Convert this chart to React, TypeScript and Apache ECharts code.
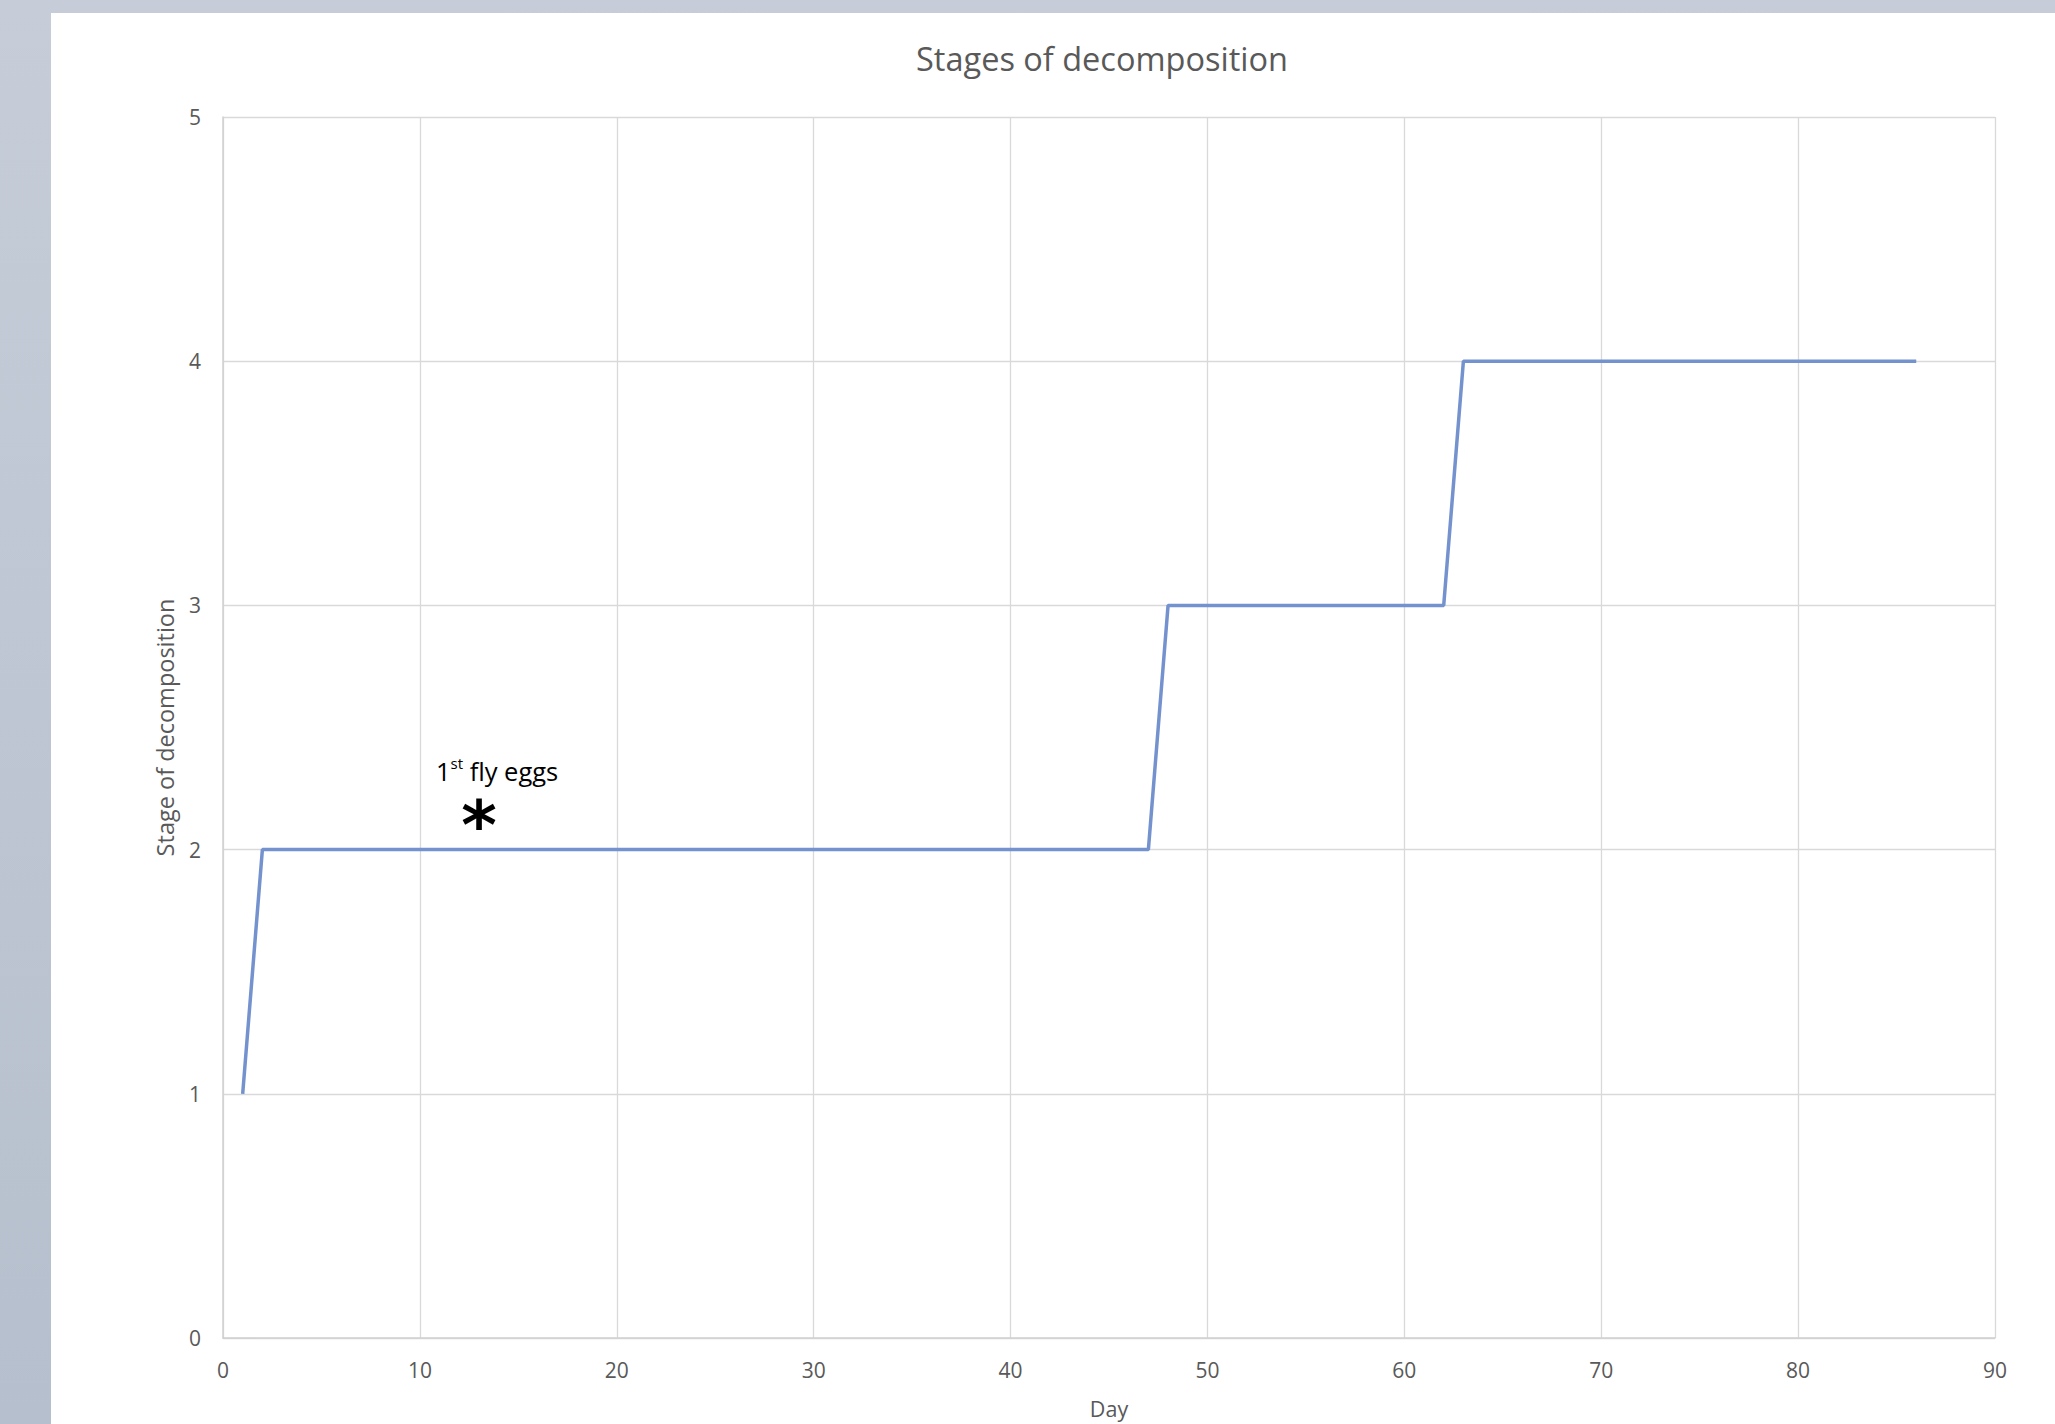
import React, { useEffect, useRef } from "react";
import * as echarts from "echarts";

const days = [1, 2, 47, 48, 62, 63, 86];
const stages = [1, 2, 2, 3, 3, 4, 4];
const xTicks = { min: 0, max: 90, interval: 10 };
const yTicks = { min: 0, max: 5, interval: 1 };
const titleText = "Stages of decomposition";
const xName = "Day";
const yName = "Stage of decomposition";
const annotationDay = 13;
const annotationStage = 2;

const FONT = "'Open Sans', Lato, sans-serif";

export default function App() {
  const ref = useRef<HTMLDivElement>(null);
  useEffect(() => {
    if (!ref.current) return;
    const chart = echarts.init(ref.current, undefined, { renderer: "svg" });
    const data = days.map((d, i) => [d, stages[i]]);
    chart.setOption({
      animation: false,
      backgroundColor: "transparent",
      textStyle: { fontFamily: FONT },
      title: {
        text: titleText,
        left: 1097,
        textAlign: "center",
        top: 37,
        textStyle: { fontFamily: FONT, fontSize: 32.5, fontWeight: "normal", color: "#595959" },
      },
      grid: { left: 223, top: 117, right: 60, bottom: 86, containLabel: false },
      xAxis: {
        type: "value",
        min: xTicks.min,
        max: xTicks.max,
        interval: xTicks.interval,
        name: xName,
        nameLocation: "middle",
        nameGap: 59,
        nameTextStyle: { fontFamily: FONT, fontSize: 21.5, color: "#595959" },
        axisLine: { show: true, lineStyle: { color: "#d0d0d0", width: 1.5 } },
        axisTick: { show: false },
        axisLabel: { fontFamily: FONT, fontSize: 21, color: "#595959", margin: 21 },
        splitLine: { show: true, lineStyle: { color: "#d9d9d9", width: 1.3 } },
      },
      yAxis: {
        type: "value",
        min: yTicks.min,
        max: yTicks.max,
        interval: yTicks.interval,
        name: yName,
        nameLocation: "middle",
        nameGap: 46,
        nameTextStyle: { fontFamily: FONT, fontSize: 23.5, color: "#595959" },
        axisLine: { show: true, lineStyle: { color: "#d0d0d0", width: 1.5 } },
        axisTick: { show: false },
        axisLabel: { fontFamily: FONT, fontSize: 21, color: "#595959", margin: 22 },
        splitLine: { show: true, lineStyle: { color: "#d9d9d9", width: 1.3 } },
      },
      series: [
        {
          type: "line",
          data,
          showSymbol: false,
          symbol: "none",
          lineStyle: { color: "#7492ce", width: 3.5 },
          itemStyle: { color: "#7492ce" },
        },
      ],
    });
    const [px, py] = chart.convertToPixel({ gridIndex: 0 }, [annotationDay, annotationStage]) as number[];
    chart.setOption({
      graphic: [
        {
          type: "text",
          x: px - 43,
          y: py - 80,
          style: {
            text: "{n|1}{s|st}{n| fly eggs}",
            rich: {
              n: { fontFamily: FONT, fontSize: 25.5, fill: "#000", verticalAlign: "bottom", lineHeight: 28 },
              s: { fontFamily: FONT, fontSize: 15, fill: "#000", verticalAlign: "top", lineHeight: 28, padding: [0, 0, 9, 0] },
            },
            textVerticalAlign: "middle",
          },
        },
        {
          type: "text",
          x: px,
          y: py - 24,
          style: {
            text: "*",
            fontFamily: "'DejaVu Sans', sans-serif",
            fontSize: 68,
            lineHeight: 30,
            fontWeight: "bold",
            fill: "#000",
            textAlign: "center",
            textVerticalAlign: "middle",
          },
        },
      ],
    });
    return () => chart.dispose();
  }, []);

  return (
    <div
      style={{
        position: "absolute",
        left: 0,
        top: 0,
        width: 2055,
        height: 1424,
        background: "linear-gradient(180deg, #c6cdd9 0%, #b6bfcd 100%)",
        overflow: "hidden",
      }}
    >
      <div
        style={{
          position: "absolute",
          left: 51,
          top: 13,
          width: 2004,
          height: 1411,
          background: "#ffffff",
        }}
      />
      <div ref={ref} style={{ position: "absolute", left: 0, top: 0, width: 2055, height: 1424 }} />
    </div>
  );
}
